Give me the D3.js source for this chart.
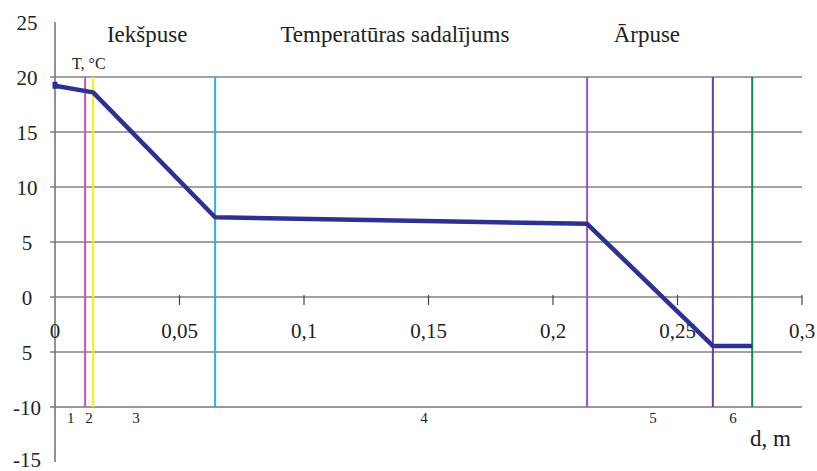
<!DOCTYPE html>
<html>
<head>
<meta charset="utf-8">
<script src="https://cdn.jsdelivr.net/npm/d3@7"></script>
<style>
  html, body { margin: 0; padding: 0; background: #fff; }
  svg { display: block; }
</style>
</head>
<body>
<svg id="chart" width="817" height="471"></svg>
<script>
// ---- data ----
const depth = [0, 0.0153, 0.0643, 0.2137, 0.2642, 0.28];
const temperature = [19.2, 18.6, 7.25, 6.65, -4.45, -4.45];

const boundaries = [0.0121, 0.0153, 0.0643, 0.2137, 0.2642, 0.28];
const boundaryColors = ["#c256b2", "#fff000", "#27b5e8", "#a550b8", "#6a3d9f", "#0c8a50"];

const layerLabels = ["1", "2", "3", "4", "5", "6"];
const layerLabelPos = [0.0063, 0.0137, 0.0325, 0.1482, 0.2402, 0.2723];

const xTicks = [0, 0.05, 0.1, 0.15, 0.2, 0.25, 0.3];
const xTickLabels = ["0", "0,05", "0,1", "0,15", "0,2", "0,25", "0,3"];

const yTicks = [25, 20, 15, 10, 5, 0, -5, -10, -15];
const yTickLabels = ["25", "20", "15", "10", "5", "0", "5", "-10", "-15"];
const yGrid = [20, 15, 10, 5, 0, -5, -10];

const titles = ["Iekšpuse", "Temperatūras sadalījums", "Ārpuse"];
const titlePos = [0.037, 0.1365, 0.2377];

// ---- scales ----
const FONT = "'Liberation Serif', 'Times New Roman', Tinos, 'DejaVu Serif', 'Noto Serif', serif";
const svg = d3.select("#chart")
  .attr("font-family", FONT).style("font-family", FONT);
const x = d3.scaleLinear().domain([0, 0.3]).range([55, 802]);
const y = d3.scaleLinear().domain([-15, 25]).range([462, 22]);

// gridlines
svg.append("g").selectAll("line").data(yGrid).join("line")
  .attr("x1", 50).attr("x2", x(0.3))
  .attr("y1", d => y(d)).attr("y2", d => y(d))
  .attr("stroke", d => d === -10 ? "#777" : "#444")
  .attr("stroke-width", d => d === -10 ? 1.6 : 1.2);

// x axis ticks (on the zero line)
svg.append("g").selectAll("line").data(xTicks.slice(1)).join("line")
  .attr("x1", d => x(d)).attr("x2", d => x(d))
  .attr("y1", y(0) - 2).attr("y2", y(0) + 8)
  .attr("stroke", "#444").attr("stroke-width", 1.2);

// boundaries
svg.append("g").selectAll("line").data(boundaries).join("line")
  .attr("x1", d => x(d)).attr("x2", d => x(d))
  .attr("y1", y(20)).attr("y2", y(-10))
  .attr("stroke", (d, i) => boundaryColors[i]).attr("stroke-width", 2);

// y axis line
svg.append("line")
  .attr("x1", x(0)).attr("x2", x(0)).attr("y1", y(25)).attr("y2", y(-15))
  .attr("stroke", "#777").attr("stroke-width", 1.6);

function txt(sel) {
  return sel.attr("font-family", FONT).style("font-family", FONT).attr("fill", "#222");
}

// y labels
txt(svg.append("g").selectAll("text").data(yTicks).join("text"))
  .attr("x", 27).attr("y", d => Math.min(y(d) + 8, 467))
  .attr("text-anchor", "middle").attr("font-size", 21)
  .text((d, i) => yTickLabels[i]);

// x labels
txt(svg.append("g").selectAll("text").data(xTicks).join("text"))
  .attr("x", d => x(d)).attr("y", 338)
  .attr("text-anchor", "middle").attr("font-size", 21)
  .text((d, i) => xTickLabels[i]);

// temperature line
const pts = depth.map((d, i) => [d, temperature[i]]);
svg.append("path").datum(pts)
  .attr("d", d3.line().x(d => x(d[0])).y(d => y(d[1])))
  .attr("fill", "none").attr("stroke", "#2e3192").attr("stroke-width", 4.5)
  .attr("stroke-linejoin", "round");
svg.append("rect")
  .attr("x", x(depth[0]) - 2.5).attr("y", y(temperature[0]) - 4)
  .attr("width", 5).attr("height", 7).attr("fill", "#2e3192");

// titles
txt(svg.append("g").selectAll("text").data(titles).join("text"))
  .attr("x", (d, i) => x(titlePos[i])).attr("y", 42)
  .attr("text-anchor", "middle").attr("font-size", 23)
  .text(d => d);

// axis titles
txt(svg.append("text")).attr("x", 72).attr("y", 69).attr("font-size", 16).text("T, °C");
txt(svg.append("text")).attr("x", 750).attr("y", 446).attr("font-size", 23).text("d, m");

// layer numbers
txt(svg.append("g").selectAll("text").data(layerLabels).join("text"))
  .attr("x", (d, i) => x(layerLabelPos[i])).attr("y", 423)
  .attr("text-anchor", "middle").attr("font-size", 15)
  .text(d => d);
</script>
</body>
</html>
